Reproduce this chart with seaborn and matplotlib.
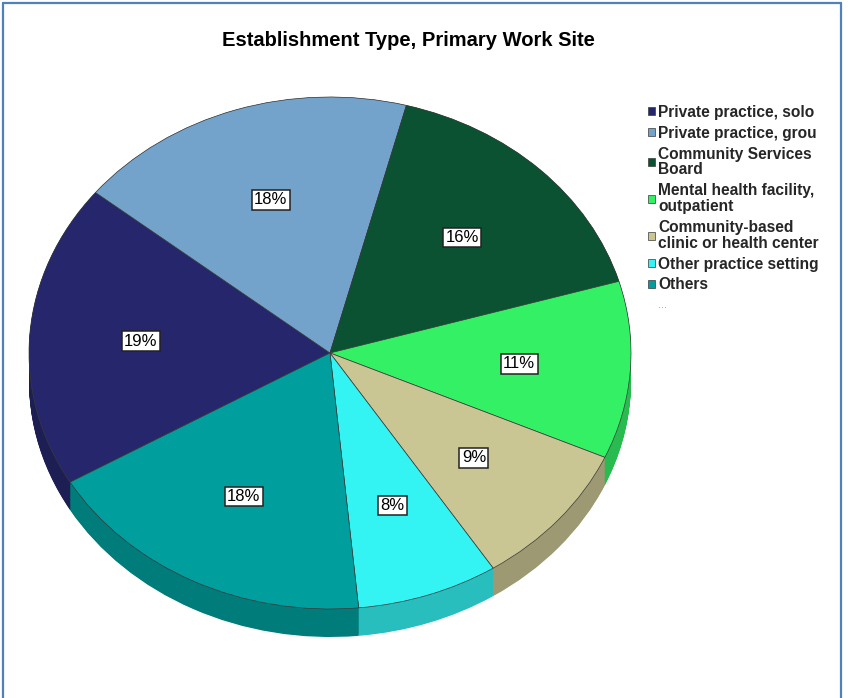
import numpy as np
import matplotlib
matplotlib.use("Agg")
import matplotlib.pyplot as plt
from matplotlib.lines import Line2D
from matplotlib.patches import Patch
import seaborn as sns

# Establishment type shares (percent of respondents)
categories = [
    "Private practice, solo",
    "Private practice, grou",
    "Community Services\nBoard",
    "Mental health facility,\noutpatient",
    "Community-based\nclinic or health center",
    "Other practice setting",
    "Others",
]
shares = [19.2, 18.3, 16.4, 11.2, 9.2, 7.6, 18.1]
slice_colors = ["#25266B", "#73A2CB", "#0B5233", "#33F065",
                "#C9C693", "#33F3F3", "#009F9D"]
title = "Establishment Type, Primary Work Site"

sns.set_theme(style="white")
plt.rcParams["font.family"] = ["Liberation Sans", "DejaVu Sans"]

W, H = 850, 698
fig = plt.figure(figsize=(W / 100, H / 100), dpi=100)
fig.patch.set_facecolor("white")
ax = fig.add_axes([0, 0, 1, 1])

# pie geometry in pixels: centre, horizontal/vertical radius, extrusion depth
cx, cy, rx, ry, depth_px = 330, 353, 301, 256, 28
start = 210.3
palette = sns.color_palette(slice_colors)
side_colors = [tuple(c * 0.78 for c in col) for col in palette]

# extruded side: stacked darker pies from the bottom up to the top face
depth = depth_px / ry
for off in np.linspace(depth, 0.0, 40):
    ax.pie(shares, colors=side_colors, startangle=start, counterclock=False,
           center=(0, -off), radius=1.0,
           wedgeprops=dict(linewidth=0, antialiased=True))

# top face with percentage labels
wedges, _, pct_texts = ax.pie(
    shares, colors=palette, startangle=start, counterclock=False,
    center=(0, 0), radius=1.0, autopct="%.0f%%", pctdistance=0.63,
    wedgeprops=dict(edgecolor="#3a3a3a", linewidth=0.5),
    textprops=dict(fontsize=12, color="black"))
for t in pct_texts:
    t.set_bbox(dict(boxstyle="square,pad=0.14", facecolor="white",
                    edgecolor="#222222", linewidth=1.1))

# ellipse: independent x/y scaling
ax.set_aspect("auto")
ax.set_xlim(-cx / rx, (W - cx) / rx)
ax.set_ylim(-(H - cy) / ry, cy / ry)
ax.axis("off")

fig.text(408 / W, 1 - 41 / H, title, ha="center", va="center",
         fontsize=14.5, fontweight="bold", color="black")

handles = list(wedges) + [Patch(facecolor="none", edgecolor="none")]
leg = fig.legend(handles, categories + ["..."], loc="upper left",
                 bbox_to_anchor=(648 / W, 1 - 105 / H), frameon=False,
                 borderaxespad=0, borderpad=0, handlelength=0.42,
                 handleheight=0.42, handletextpad=0.25, labelspacing=0.37,
                 prop=dict(size=11.2, weight="bold"))
for t in leg.get_texts()[:-1]:
    t.set_linespacing(1.08)
last = leg.get_texts()[-1]
last.set_color("#999999")
last.set_fontsize(8)
last.set_fontweight("normal")

# frame around the chart (left, top, right)
border = "#4F81BD"
fig.add_artist(Line2D([3 / W, 3 / W], [0, 1 - 3 / H], color=border, lw=1.6,
                      transform=fig.transFigure))
fig.add_artist(Line2D([3 / W, 841 / W], [1 - 3 / H, 1 - 3 / H], color=border,
                      lw=1.6, transform=fig.transFigure))
fig.add_artist(Line2D([841 / W, 841 / W], [0, 1 - 3 / H], color=border, lw=1.6,
                      transform=fig.transFigure))

fig.savefig("out.png", dpi=100, facecolor="white")
